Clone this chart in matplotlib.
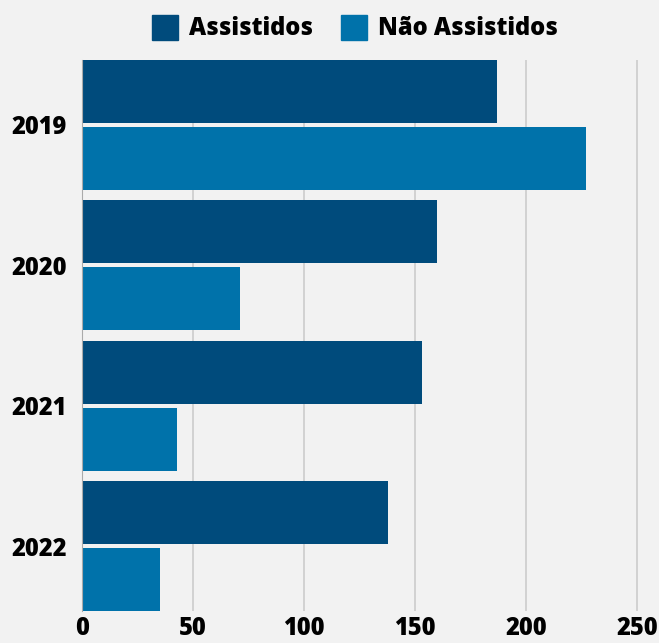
import numpy as np
import matplotlib.pyplot as plt
from matplotlib.patches import Patch

anos = ['2019', '2020', '2021', '2022']
assistidos = [187, 160, 153, 138]
nao_assistidos = [227, 71, 43, 35]

cor_assist = '#004b7c'
cor_nao = '#0072aa'
fundo = '#f2f2f2'

plt.rcParams['font.family'] = ['Open Sans', 'DejaVu Sans']

fig = plt.figure(figsize=(6.59, 6.43), dpi=100, facecolor=fundo)
ax = fig.add_axes([82 / 659, 1 - 611 / 643, 1 - 82 / 659, (611 - 60) / 643])
ax.set_facecolor(fundo)

y = np.arange(len(anos))
h = 0.447
off = 0.2376
ax.barh(y - off, assistidos, height=h, color=cor_assist, zorder=3)
ax.barh(y + off, nao_assistidos, height=h, color=cor_nao, zorder=3)

ax.set_xlim(0, 260)
ax.set_ylim(3.461, -0.461)
ax.set_xticks([0, 50, 100, 150, 200, 250])
ax.set_yticks(y)
ax.set_yticklabels(anos)
ax.tick_params(length=0, labelsize=17)
ax.tick_params(axis='y', pad=11)
ax.tick_params(axis='x', pad=3.5)
for lbl in ax.get_xticklabels() + ax.get_yticklabels():
    lbl.set_fontweight('heavy')

ax.grid(axis='x', color='#cccccc', linewidth=1.2, zorder=0)
for s in ['top', 'right', 'bottom']:
    ax.spines[s].set_visible(False)
ax.spines['left'].set_color('#aaaaaa')
ax.spines['left'].set_zorder(4)

handles = [Patch(color=cor_assist, label='Assistidos'),
           Patch(color=cor_nao, label='Não Assistidos')]
leg = fig.legend(handles=handles, loc='center', bbox_to_anchor=(355 / 659, 1 - 28 / 643),
                 ncol=2, frameon=False, handlelength=1.1, handleheight=1.25,
                 columnspacing=1.2, handletextpad=0.45,
                 prop={'weight': 'heavy', 'size': 17})

fig.savefig('out.png', dpi=100, facecolor=fundo)
